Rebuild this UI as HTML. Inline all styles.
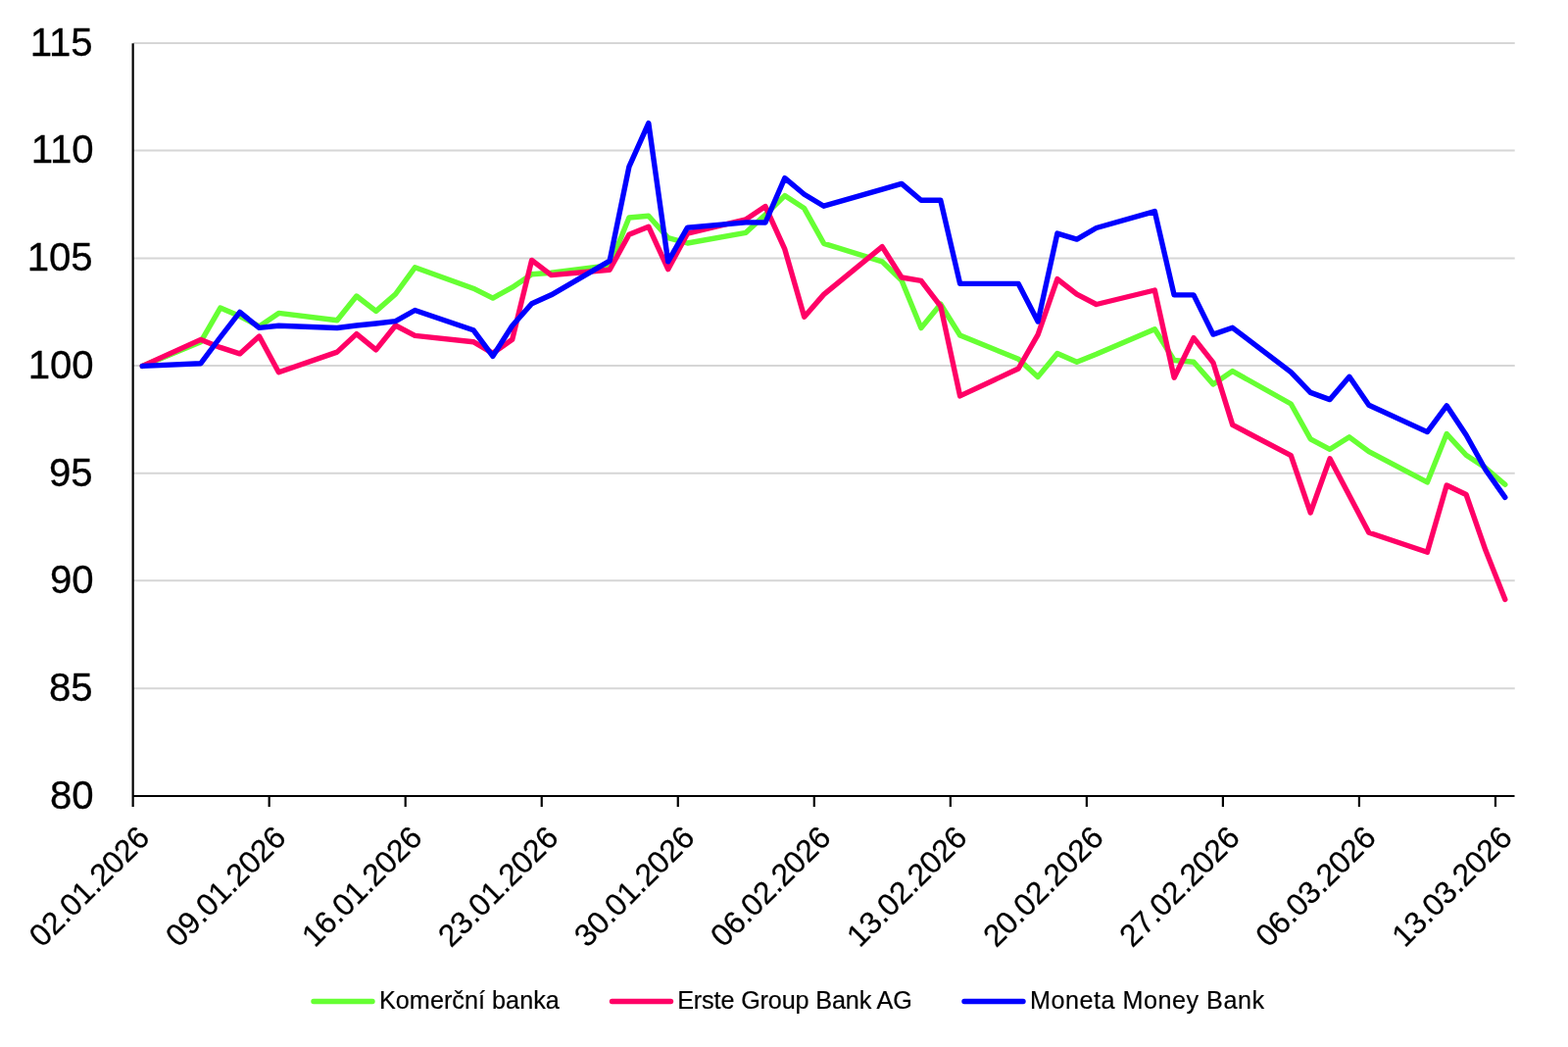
<!DOCTYPE html>
<html lang="cs"><head><meta charset="utf-8"><title>Graf</title>
<style>
html,body{margin:0;padding:0;background:#fff;}
body{width:1600px;height:1068px;overflow:hidden;font-family:"Liberation Sans",sans-serif;}
svg{display:block;}
text{font-family:"Liberation Sans",sans-serif;fill:#000;}
</style></head><body>
<svg width="1600" height="1068" viewBox="0 0 1600 1068">
<rect width="1600" height="1068" fill="#fff"/>

<g stroke="#d6d6d6" stroke-width="2" fill="none">
<line x1="136" y1="702.15" x2="1545.7" y2="702.15"/>
<line x1="136" y1="592.15" x2="1545.7" y2="592.15"/>
<line x1="136" y1="482.75" x2="1545.7" y2="482.75"/>
<line x1="136" y1="373.05" x2="1545.7" y2="373.05"/>
<line x1="136" y1="263.60" x2="1545.7" y2="263.60"/>
<line x1="136" y1="153.55" x2="1545.7" y2="153.55"/>
<line x1="136" y1="44.05" x2="1545.7" y2="44.05"/>
</g>
<polyline fill="none" stroke="#66ff33" stroke-width="5.4" stroke-linejoin="round" stroke-linecap="round" points="145.3,373.4 204.9,348.7 224.8,314.1 244.7,322.5 264.5,333.0 284.4,319.4 344.0,326.8 363.8,302.0 383.7,317.4 403.6,300.0 423.4,272.8 483.0,294.2 502.9,304.1 522.7,293.2 542.6,279.8 562.5,278.2 622.1,270.8 641.9,222.0 661.8,220.3 681.7,242.6 701.5,248.0 761.1,237.3 781.0,219.0 800.8,199.6 820.7,212.6 840.6,248.3 900.2,266.9 920.0,286.0 939.9,334.6 959.8,310.2 979.6,342.0 1039.2,366.3 1059.1,384.4 1078.9,360.5 1098.8,369.2 1118.7,361.3 1178.3,335.8 1198.1,367.5 1218.0,369.3 1237.9,391.9 1257.7,378.6 1317.3,412.0 1337.2,447.8 1357.0,458.3 1376.9,445.8 1396.8,460.7 1456.4,491.9 1476.2,442.6 1496.1,464.3 1515.9,477.3 1535.8,494.3"/>
<polyline fill="none" stroke="#ff0066" stroke-width="5.4" stroke-linejoin="round" stroke-linecap="round" points="145.3,373.4 204.9,346.4 224.8,354.4 244.7,360.9 264.5,343.0 284.4,379.7 344.0,359.1 363.8,340.6 383.7,356.9 403.6,332.0 423.4,342.4 483.0,348.7 502.9,360.3 522.7,346.3 542.6,265.4 562.5,280.6 622.1,275.3 641.9,239.2 661.8,231.2 681.7,274.6 701.5,238.2 761.1,223.8 781.0,210.6 800.8,254.2 820.7,323.2 840.6,300.4 900.2,251.6 920.0,283.0 939.9,286.3 959.8,312.3 979.6,403.9 1039.2,376.0 1059.1,341.3 1078.9,284.6 1098.8,300.2 1118.7,310.5 1178.3,296.0 1198.1,385.2 1218.0,344.6 1237.9,369.8 1257.7,433.4 1317.3,464.6 1337.2,523.0 1357.0,467.8 1376.9,505.5 1396.8,543.2 1456.4,563.3 1476.2,495.0 1496.1,504.5 1515.9,561.3 1535.8,611.4"/>
<polyline fill="none" stroke="#0000ff" stroke-width="5.4" stroke-linejoin="round" stroke-linecap="round" points="145.3,373.4 204.9,370.7 224.8,344.0 244.7,318.4 264.5,334.4 284.4,332.3 344.0,334.5 363.8,332.0 383.7,330.0 403.6,327.6 423.4,316.5 483.0,336.7 502.9,363.3 522.7,332.3 542.6,309.8 562.5,300.8 622.1,266.2 641.9,170.1 661.8,125.6 681.7,266.8 701.5,232.2 761.1,226.9 781.0,227.0 800.8,181.6 820.7,198.2 840.6,210.2 900.2,193.2 920.0,187.4 939.9,204.3 959.8,204.3 979.6,289.4 1039.2,289.4 1059.1,328.0 1078.9,238.1 1098.8,244.1 1118.7,232.5 1178.3,215.6 1198.1,300.9 1218.0,300.9 1237.9,341.1 1257.7,334.3 1317.3,379.6 1337.2,400.4 1357.0,407.6 1376.9,384.3 1396.8,413.3 1456.4,440.6 1476.2,413.8 1496.1,443.8 1515.9,479.3 1535.8,507.4"/>
<g stroke="#000" stroke-width="2.2" fill="none">
<line x1="135.65" y1="44.3" x2="135.65" y2="823"/>
<line x1="135" y1="812" x2="1545.5" y2="812"/>
<line x1="274.68" y1="812" x2="274.68" y2="823"/>
<line x1="413.71" y1="812" x2="413.71" y2="823"/>
<line x1="552.74" y1="812" x2="552.74" y2="823"/>
<line x1="691.77" y1="812" x2="691.77" y2="823"/>
<line x1="830.80" y1="812" x2="830.80" y2="823"/>
<line x1="969.83" y1="812" x2="969.83" y2="823"/>
<line x1="1108.86" y1="812" x2="1108.86" y2="823"/>
<line x1="1247.89" y1="812" x2="1247.89" y2="823"/>
<line x1="1386.92" y1="812" x2="1386.92" y2="823"/>
<line x1="1525.95" y1="812" x2="1525.95" y2="823"/>
</g>
<g font-size="40.2" text-anchor="end" letter-spacing="-0.2" stroke="#000" stroke-width="0.3">
<text x="95.3" y="824.6">80</text>
<text x="94.3" y="714.9">85</text>
<text x="95.3" y="605.2">90</text>
<text x="94.3" y="495.5">95</text>
<text x="95.3" y="385.7">100</text>
<text x="94.3" y="276.0">105</text>
<text x="95.3" y="166.3">110</text>
<text x="94.3" y="56.6">115</text>
</g>
<g font-size="31.8" text-anchor="end" letter-spacing="-0.2" stroke="#000" stroke-width="0.25">
<text transform="translate(154.2,856.4) rotate(-45)" x="0" y="0">02.01.2026</text>
<text transform="translate(293.3,856.4) rotate(-45)" x="0" y="0">09.01.2026</text>
<text transform="translate(432.3,856.4) rotate(-45)" x="0" y="0">16.01.2026</text>
<text transform="translate(571.3,856.4) rotate(-45)" x="0" y="0">23.01.2026</text>
<text transform="translate(710.4,856.4) rotate(-45)" x="0" y="0">30.01.2026</text>
<text transform="translate(849.4,856.4) rotate(-45)" x="0" y="0">06.02.2026</text>
<text transform="translate(988.4,856.4) rotate(-45)" x="0" y="0">13.02.2026</text>
<text transform="translate(1127.5,856.4) rotate(-45)" x="0" y="0">20.02.2026</text>
<text transform="translate(1266.5,856.4) rotate(-45)" x="0" y="0">27.02.2026</text>
<text transform="translate(1405.5,856.4) rotate(-45)" x="0" y="0">06.03.2026</text>
<text transform="translate(1544.5,856.4) rotate(-45)" x="0" y="0">13.03.2026</text>
</g>
<g stroke-width="5.4" stroke-linecap="round" fill="none">
<line x1="320" y1="1021.5" x2="380" y2="1021.5" stroke="#66ff33"/>
<line x1="624.5" y1="1021.5" x2="684.5" y2="1021.5" stroke="#ff0066"/>
<line x1="984" y1="1021.5" x2="1044" y2="1021.5" stroke="#0000ff"/>
</g>
<g font-size="25.2" stroke="#000" stroke-width="0.2">
<text x="387" y="1028.8" letter-spacing="0.03">Komerční banka</text>
<text x="691.2" y="1028.8" letter-spacing="-0.14">Erste Group Bank AG</text>
<text x="1051" y="1028.8" letter-spacing="0.5">Moneta Money Bank</text>
</g>
</svg></body></html>
